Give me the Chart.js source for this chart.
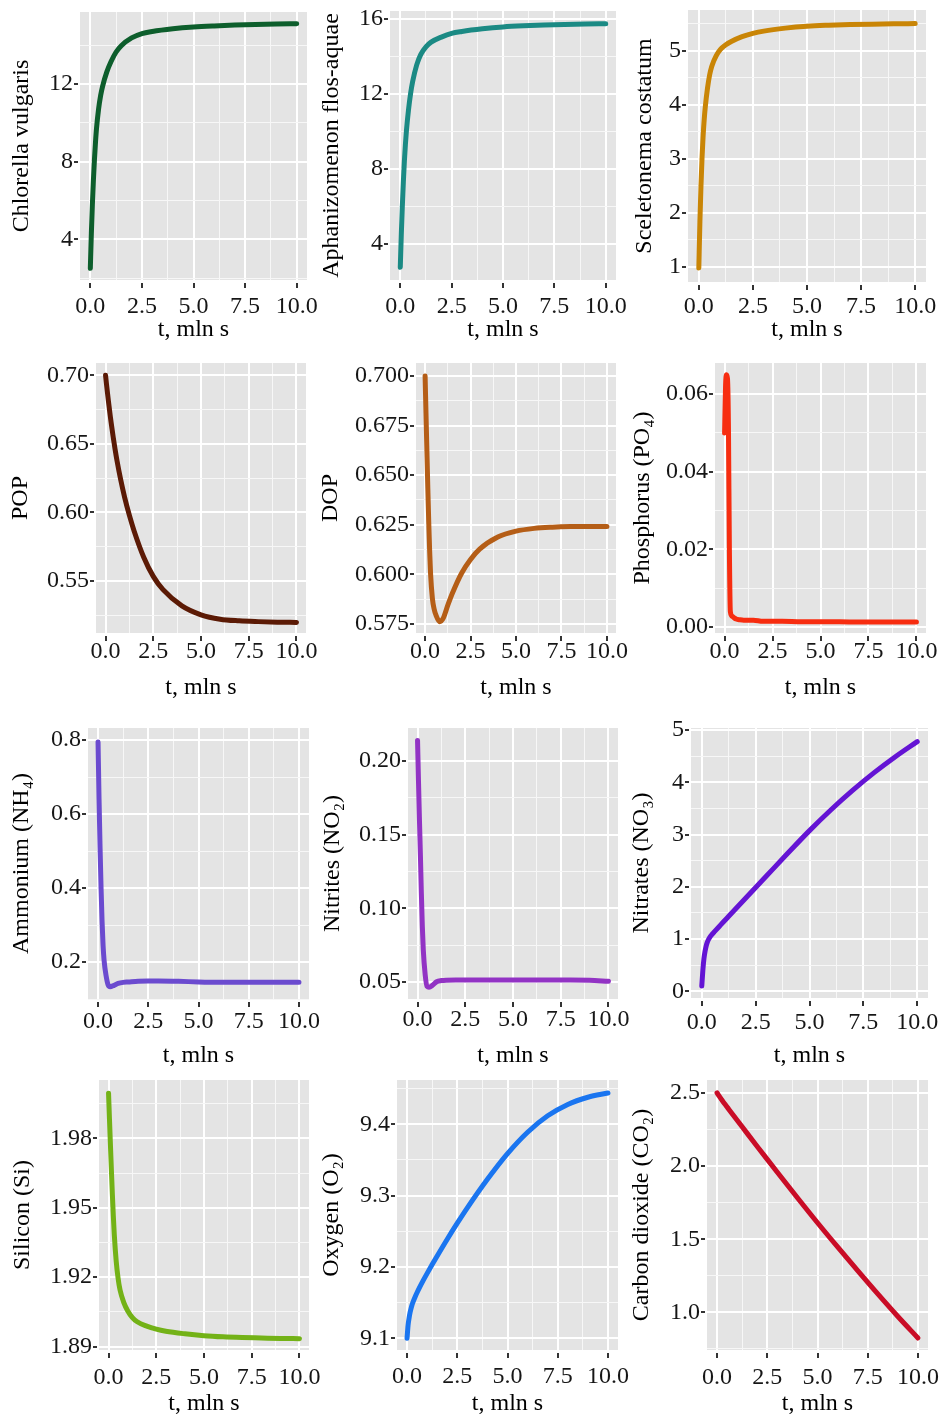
<!DOCTYPE html>
<html>
<head>
<meta charset="utf-8">
<script src="https://cdn.jsdelivr.net/npm/chart.js@4.4.1/dist/chart.umd.min.js"></script>
<style>
  html, body { margin: 0; padding: 0; background: #fff; }
  #page { position: relative; width: 941px; height: 1421px; overflow: hidden; }
  #page canvas { position: absolute; }
</style>
</head>
<body>
<div id="page"></div>
<script>
// model time, mln s (shared by all panels)
const time = [0, 0.05, 0.1, 0.15, 0.2, 0.25, 0.3, 0.4, 0.5, 0.6, 0.8, 1, 1.25, 1.5, 2, 2.5, 3, 4, 5, 6, 7, 8, 9, 10];

// values, one per time step
const chlorella = [2.5, 4.3, 5.8, 7.05, 8.1, 8.98, 9.7, 10.7, 11.4, 11.9, 12.62, 13.14, 13.64, 13.965, 14.365, 14.59, 14.7, 14.84, 14.93, 14.985, 15.025, 15.055, 15.08, 15.1];
const aphanizomenon = [2.75, 4.5, 6.0, 7.3, 8.4, 9.3, 10.03, 11.13, 11.98, 12.63, 13.53, 14.09, 14.49, 14.74, 15.01, 15.21, 15.31, 15.45, 15.55, 15.61, 15.65, 15.68, 15.705, 15.725];
const sceletonema = [0.98, 1.83, 2.505, 3.03, 3.43, 3.73, 3.96, 4.3, 4.55, 4.71, 4.9, 5.02, 5.1075, 5.1675, 5.2575, 5.3175, 5.36, 5.415, 5.45, 5.468, 5.48, 5.488, 5.494, 5.499];
const pop = [0.700, 0.6935, 0.6873, 0.6813, 0.6755, 0.670, 0.6648, 0.655, 0.646, 0.6378, 0.6234, 0.611, 0.5978, 0.5863, 0.5673, 0.5533, 0.5438, 0.5318, 0.5253, 0.5221, 0.5209, 0.5203, 0.5199, 0.5197];
const dop = [0.700, 0.681, 0.662, 0.6435, 0.6265, 0.612, 0.6005, 0.588, 0.5825, 0.5795, 0.5762, 0.578, 0.5845, 0.5905, 0.6005, 0.6075, 0.6127, 0.6188, 0.6218, 0.6232, 0.6238, 0.6241, 0.6242, 0.6242];
const phosphorus = [0.050, 0.062, 0.065, 0.064, 0.052, 0.020, 0.004, 0.0028, 0.0024, 0.0021, 0.0019, 0.0018, 0.0018, 0.0018, 0.0015, 0.0015, 0.0015, 0.0014, 0.0014, 0.0014, 0.0013, 0.0013, 0.0013, 0.0013];
const ammonium = [0.795, 0.64, 0.51, 0.40, 0.31, 0.245, 0.205, 0.163, 0.138, 0.133, 0.137, 0.142, 0.145, 0.146, 0.148, 0.149, 0.149, 0.148, 0.146, 0.145, 0.145, 0.145, 0.145, 0.145];
const nitrites = [0.214, 0.186, 0.16, 0.136, 0.11, 0.088, 0.072, 0.055, 0.047, 0.0465, 0.048, 0.0502, 0.051, 0.0513, 0.0514, 0.0514, 0.0514, 0.0514, 0.0514, 0.0514, 0.0514, 0.0514, 0.0512, 0.0505];
const nitrates = [0.1, 0.4, 0.62, 0.76, 0.86, 0.93, 0.98, 1.05, 1.1, 1.145, 1.235, 1.325, 1.435, 1.545, 1.765, 1.985, 2.205, 2.645, 3.075, 3.475, 3.845, 4.185, 4.495, 4.78];
const silicon = [1.9995, 1.988, 1.9768, 1.966, 1.9558, 1.9465, 1.9385, 1.927, 1.9195, 1.9145, 1.909, 1.9055, 1.9025, 1.9007, 1.8988, 1.8975, 1.8966, 1.8955, 1.8947, 1.8942, 1.8939, 1.8937, 1.8935, 1.8934];
const oxygen = [9.10, 9.118, 9.128, 9.136, 9.142, 9.147, 9.151, 9.158, 9.1642, 9.17, 9.1808, 9.191, 9.2033, 9.2153, 9.2388, 9.2613, 9.2828, 9.3228, 9.3588, 9.3888, 9.4118, 9.4278, 9.4378, 9.4438];
const co2 = [2.5, 2.489, 2.479, 2.469, 2.459, 2.4495, 2.44, 2.4218, 2.4036, 2.3854, 2.3491, 2.313, 2.268, 2.2232, 2.1341, 2.0455, 1.9575, 1.7834, 1.6125, 1.447, 1.285, 1.126, 0.972, 0.825];

// tick labels
const xTicks = ['0.0', '2.5', '5.0', '7.5', '10.0'];
const chlorellaTicks = ['4', '8', '12'];
const aphanizomenonTicks = ['4', '8', '12', '16'];
const sceletonemaTicks = ['1', '2', '3', '4', '5'];
const popTicks = ['0.55', '0.60', '0.65', '0.70'];
const dopTicks = ['0.575', '0.600', '0.625', '0.650', '0.675', '0.700'];
const phosphorusTicks = ['0.00', '0.02', '0.04', '0.06'];
const ammoniumTicks = ['0.2', '0.4', '0.6', '0.8'];
const nitritesTicks = ['0.05', '0.10', '0.15', '0.20'];
const nitratesTicks = ['0', '1', '2', '3', '4', '5'];
const siliconTicks = ['1.89', '1.92', '1.95', '1.98'];
const oxygenTicks = ['9.1', '9.2', '9.3', '9.4'];
const co2Ticks = ['1.0', '1.5', '2.0', '2.5'];

// box = grey panel [left, top, right, bottom] on the page
const panels = [
  { label: 'Chlorella vulgaris', values: chlorella, ticks: chlorellaTicks, color: '#0d5e2c', yMin: 1.9, yMax: 15.7, box: [80, 12, 307, 280], titleX: 21, xTitleY: 330, labelOff: 27 },
  { label: 'Aphanizomenon flos-aquae', values: aphanizomenon, ticks: aphanizomenonTicks, color: '#1b8a84', yMin: 2.07, yMax: 16.4, box: [390, 11, 616, 280], titleX: 331, xTitleY: 330, labelOff: 27 },
  { label: 'Sceletonema costatum', values: sceletonema, ticks: sceletonemaTicks, color: '#c98506', yMin: 0.72, yMax: 5.75, box: [688, 10, 926, 282], titleX: 644, xTitleY: 330, labelOff: 25 },
  { label: 'POP', values: pop, ticks: popTicks, color: '#5b1a05', yMin: 0.512, yMax: 0.709, box: [96, 363, 306, 633], titleX: 20, xTitleY: 688, labelOff: 19 },
  { label: 'DOP', values: dop, ticks: dopTicks, color: '#b55e17', yMin: 0.5705, yMax: 0.7065, box: [416, 363, 616, 633], titleX: 330, xTitleY: 688, labelOff: 19 },
  { label: 'Phosphorus (PO\u2084)', values: phosphorus, ticks: phosphorusTicks, color: '#f72d10', yMin: -0.0015, yMax: 0.068, box: [715, 363, 926, 633], titleX: 642, xTitleY: 688, labelOff: 19 },
  { label: 'Ammonium (NH\u2084)', values: ammonium, ticks: ammoniumTicks, color: '#6b4bcf', yMin: 0.1, yMax: 0.833, box: [88, 728, 309, 999], titleX: 21, xTitleY: 1056, labelOff: 23 },
  { label: 'Nitrites (NO\u2082)', values: nitrites, ticks: nitritesTicks, color: '#9233c4', yMin: 0.0385, yMax: 0.2224, box: [408, 728, 618, 999], titleX: 332, xTitleY: 1056, labelOff: 21 },
  { label: 'Nitrates (NO\u2083)', values: nitrates, ticks: nitratesTicks, color: '#6414d4', yMin: -0.13, yMax: 5.04, box: [691, 728, 928, 998], titleX: 641, xTitleY: 1056, labelOff: 25 },
  { label: 'Silicon (Si)', values: silicon, ticks: siliconTicks, color: '#73b217', yMin: 1.8885, yMax: 2.0052, box: [99, 1080, 309, 1350], titleX: 22, xTitleY: 1404, labelOff: 28 },
  { label: 'Oxygen (O\u2082)', values: oxygen, ticks: oxygenTicks, color: '#1a75f0', yMin: 9.0836, yMax: 9.462, box: [397, 1080, 618, 1350], titleX: 331, xTitleY: 1404, labelOff: 27 },
  { label: 'Carbon dioxide (CO\u2082)', values: co2, ticks: co2Ticks, color: '#c90c26', yMin: 0.743, yMax: 2.588, box: [707, 1080, 928, 1350], titleX: 641, xTitleY: 1404, labelOff: 28 }
];

Chart.defaults.font.family = "'Liberation Serif', 'Times New Roman', serif";
Chart.defaults.font.size = 24;
Chart.defaults.color = '#161616';

const panelGrey = '#e4e4e4';

const panelBackground = {
  id: 'panelBackground',
  beforeDraw(chart) {
    const { ctx, chartArea: a } = chart;
    ctx.save();
    ctx.fillStyle = panelGrey;
    ctx.fillRect(a.left, a.top, a.right - a.left, a.bottom - a.top);
    ctx.restore();
  }
};

// major ticks come from the labels, minor ones sit half way between
function tickSet(labels, min, max) {
  const major = labels.map(parseFloat);
  const step = major[1] - major[0];
  const minor = [major[0] - step / 2].concat(major.map(v => v + step / 2));
  const all = major.concat(minor).filter(v => v >= min && v <= max).sort((a, b) => a - b);
  const labelOf = v => {
    const i = major.findIndex(m => Math.abs(m - v) < step * 1e-6);
    return i < 0 ? null : labels[i];
  };
  return { all, labelOf };
}

function axisGrid(set, tickLength, dash) {
  const isMajor = ctx => ctx.tick && set.labelOf(ctx.tick.value) !== null;
  return {
    color: ctx => isMajor(ctx) ? '#ffffff' : '#f7f7f7',
    lineWidth: ctx => isMajor(ctx) ? 2 : 1,
    drawTicks: true,
    tickLength: tickLength,
    tickColor: ctx => isMajor(ctx) ? '#333333' : 'rgba(0,0,0,0)',
    tickWidth: 2,
    tickBorderDash: dash
  };
}

const page = document.getElementById('page');
const padTop = 16;
const padRight = 20;
const xMin = -0.5;
const xMax = 10.5;

panels.forEach(p => {
  const [gx1, gy1, gx2, gy2] = p.box;
  const left = Math.round(p.titleX - 14.4);
  const top = gy1 - padTop;
  const right = gx2 + padRight;
  const bottom = Math.round(p.xTitleY + 14.4);

  const canvas = document.createElement('canvas');
  canvas.width = right - left;
  canvas.height = bottom - top;
  canvas.style.left = left + 'px';
  canvas.style.top = top + 'px';
  canvas.style.width = (right - left) + 'px';
  canvas.style.height = (bottom - top) + 'px';
  page.appendChild(canvas);

  const xs = tickSet(xTicks, xMin, xMax);
  const ys = tickSet(p.ticks, p.yMin, p.yMax);

  new Chart(canvas.getContext('2d'), {
    type: 'line',
    data: {
      datasets: [{
        label: p.label,
        data: time.map((t, i) => ({ x: t, y: p.values[i] })),
        borderColor: p.color,
        backgroundColor: p.color,
        borderWidth: 5,
        borderCapStyle: 'round',
        borderJoinStyle: 'round',
        pointRadius: 0,
        cubicInterpolationMode: 'monotone',
        fill: false
      }]
    },
    options: {
      responsive: false,
      devicePixelRatio: 1,
      animation: false,
      events: [],
      layout: { padding: { top: padTop, right: padRight, left: 0, bottom: 0 } },
      plugins: {
        legend: { display: false },
        tooltip: { enabled: false }
      },
      scales: {
        x: {
          type: 'linear',
          min: xMin,
          max: xMax,
          afterFit(scale) { scale.height = bottom - gy2; },
          afterBuildTicks(scale) { scale.ticks = xs.all.map(v => ({ value: v })); },
          ticks: {
            autoSkip: false,
            maxRotation: 0,
            minRotation: 0,
            padding: p.labelOff - 8 - 14.4,
            callback: v => xs.labelOf(v) ?? ''
          },
          grid: axisGrid(xs, 8, [0, 3, 5, 20]),
          border: { display: false },
          title: { display: true, text: 't, mln s', color: '#000', padding: 0 }
        },
        y: {
          type: 'linear',
          min: p.yMin,
          max: p.yMax,
          afterFit(scale) { scale.width = gx1 - left; },
          afterBuildTicks(scale) { scale.ticks = ys.all.map(v => ({ value: v })); },
          ticks: {
            autoSkip: false,
            padding: 1,
            callback: v => ys.labelOf(v) ?? ''
          },
          grid: axisGrid(ys, 6, [4, 20]),
          border: { display: false },
          title: { display: true, text: p.label, color: '#000', padding: 0 }
        }
      }
    },
    plugins: [panelBackground]
  });
});
</script>
</body>
</html>
